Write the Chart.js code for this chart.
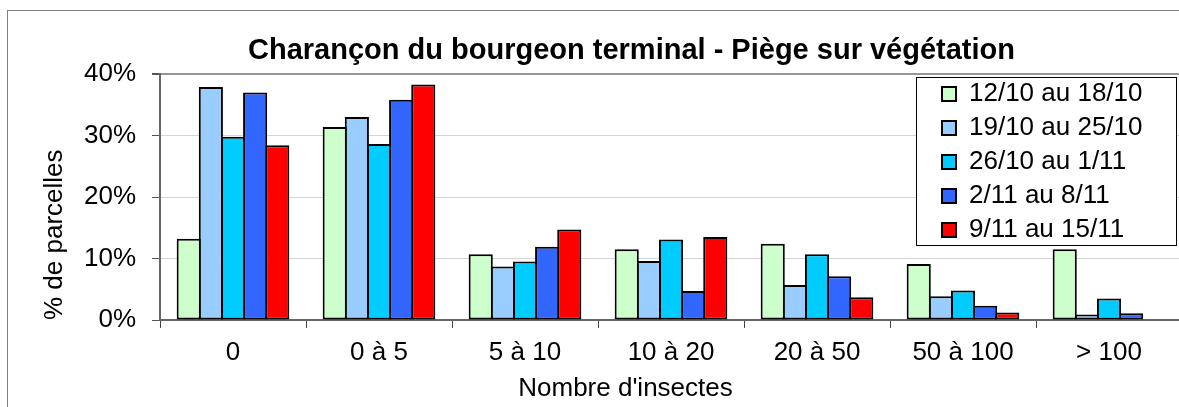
<!DOCTYPE html>
<html>
<head>
<meta charset="utf-8">
<script src="https://cdn.jsdelivr.net/npm/chart.js@4.4.0/dist/chart.umd.min.js"></script>
<style>
html,body{margin:0;padding:0;background:#fff;overflow:hidden;width:1179px;height:407px;}
#frame{position:absolute;left:7px;top:10px;width:1300px;height:500px;border:1px solid #808080;box-sizing:border-box;}
#wrap{position:absolute;left:0;top:0;width:1190px;height:407px;}
</style>
</head>
<body>
<div id="frame"></div>
<div id="wrap"><canvas id="c" width="1190" height="407"></canvas></div>
<script>
// ---- data ----
const chartTitle = 'Charançon du bourgeon terminal - Piège sur végétation';
const xAxisTitle = "Nombre d'insectes";
const yAxisTitle = '% de parcelles';
const categories = ['0', '0 à 5', '5 à 10', '10 à 20', '20 à 50', '50 à 100', '> 100'];
const seriesNames = ['12/10 au 18/10', '19/10 au 25/10', '26/10 au 1/11', '2/11 au 8/11', '9/11 au 15/11'];
const seriesColors = ['#CCFFCC', '#99CCFF', '#00CCFF', '#3366FF', '#FF0000'];
const week1 = [13.2, 31.4, 10.7, 11.5, 12.4, 9.1, 11.5];
const week2 = [37.9, 33.0, 8.7, 9.6, 5.7, 3.85, 0.9];
const week3 = [29.8, 28.6, 9.5, 13.1, 10.7, 4.8, 3.5];
const week4 = [37.0, 35.8, 11.9, 4.7, 7.1, 2.3, 1.1];
const week5 = [28.4, 38.3, 14.7, 13.5, 3.7, 1.2, 0];
const yTickValues = [0, 10, 20, 30, 40];
const yTickLabels = ['0%', '10%', '20%', '30%', '40%'];

const seriesValues = [week1, week2, week3, week4, week5];

Chart.defaults.font.family = "'Liberation Sans', Arial, sans-serif";
Chart.defaults.font.size = 26;
Chart.defaults.color = '#000';

const placePlugin = {
  id: 'place',
  afterLayout(chart) {
    const t = chart.titleBlock;
    if (t) { t.left = 7; t.right = 1256; t.width = t.right - t.left; }
    const sub = chart.boxes.find(b => b !== t && b.options && b.options.text === xAxisTitle);
    if (sub) { sub.left = 7; sub.right = 1244; sub.width = sub.right - sub.left; }
    const lg = chart.legend;
    if (lg) {
      lg.left = 934; lg.right = 1177; lg.top = 72; lg.bottom = 252;
      lg.width = lg.right - lg.left; lg.height = lg.bottom - lg.top;
      if (!lg._boxed) {
        const orig = lg.draw;
        lg.draw = function (...args) {
          const ctx = chart.ctx;
          ctx.save();
          ctx.fillStyle = '#fff';
          ctx.fillRect(916, 77, 261, 169);
          ctx.strokeStyle = '#000';
          ctx.lineWidth = 1;
          ctx.strokeRect(916.5, 77.5, 260, 168);
          ctx.restore();
          return orig.apply(this, args);
        };
        lg._boxed = true;
      }
    }
  }
};

new Chart(document.getElementById('c'), {
  type: 'bar',
  data: {
    labels: categories,
    datasets: seriesNames.map((name, i) => ({
      label: name,
      data: seriesValues[i],
      backgroundColor: seriesColors[i],
      borderColor: '#000',
      borderWidth: 2,
      borderSkipped: false,
      categoryPercentage: 0.758,
      barPercentage: 1.09
    }))
  },
  options: {
    responsive: false,
    animation: false,
    events: [],
    layout: { padding: { left: 30, right: 8, top: 10, bottom: 2.4 } },
    plugins: {
      title: {
        display: true, text: chartTitle, color: '#000',
        font: { size: 29, weight: 'bold' },
        padding: { top: 23.5, bottom: 5.7 }
      },
      subtitle: {
        display: true, text: xAxisTitle, position: 'bottom', color: '#000',
        font: { size: 26, weight: 'normal' },
        padding: { top: 6.2, bottom: 0 }
      },
      legend: {
        display: true, position: 'chartArea',
        labels: { boxWidth: 14, boxHeight: 14, padding: 8, color: '#000', font: { size: 26 } }
      },
      tooltip: { enabled: false }
    },
    scales: {
      x: {
        afterFit: s => { s.height = 47.2; },
        grid: { display: true, drawOnChartArea: false, drawTicks: true, tickLength: 8, tickColor: '#444', offset: true },
        border: { color: '#666', width: 2 },
        ticks: { color: '#000', font: { size: 26 }, padding: 9, maxRotation: 0, autoSkip: false }
      },
      y: {
        min: 0, max: 40,
        afterBuildTicks: s => { s.ticks = yTickValues.map(v => ({ value: v })); },
        afterFit: s => { s.width = 130; },
        ticks: { color: '#000', font: { size: 26 }, padding: 16,
          callback: (v) => yTickLabels[yTickValues.indexOf(v)] },
        grid: {
          color: c => (c.tick && c.tick.value === 40) ? '#969696' : '#d4d4d4',
          lineWidth: c => (c.tick && c.tick.value === 40) ? 2 : 1,
          tickColor: '#555', tickLength: 8, drawTicks: true
        },
        border: { color: '#666', width: 2 },
        title: { display: true, text: yAxisTitle, align: 'start', color: '#000',
          font: { size: 26 }, padding: { top: 9, bottom: 0 } }
      }
    }
  },
  plugins: [placePlugin]
});
</script>
</body>
</html>
